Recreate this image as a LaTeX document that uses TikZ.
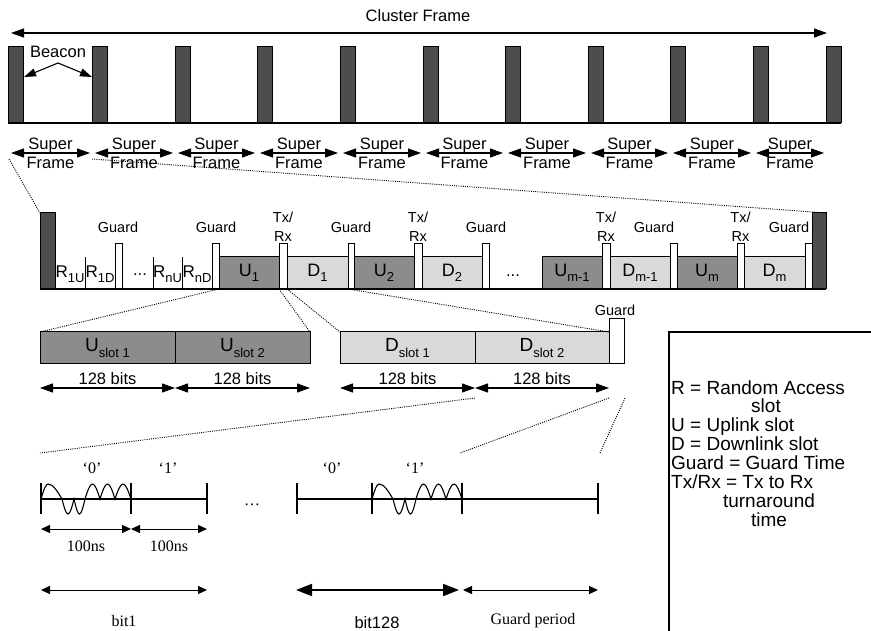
\documentclass[tikz,border=0pt]{standalone}
\usepackage{fontspec}
\setmainfont{Liberation Sans}
\newfontfamily\tnr{Liberation Serif}
\usetikzlibrary{arrows.meta,calc}
\definecolor{beaconc}{HTML}{4D4D4D}
\definecolor{upc}{HTML}{8C8C8C}
\definecolor{downc}{HTML}{D9D9D9}
\newcommand\rbox[7][]{\node[bx,#1,minimum width={(#4-#3)*1pt},minimum height={(#6-#5)*1pt}] (#2) at (#3,#6) {#7};}
\newcommand\sbs[2]{#1\raisebox{-0.3em}{\fontsize{13}{13}\selectfont #2}}
\begin{document}
\begin{tikzpicture}[x=1pt,y=-1pt,
 bx/.style={draw=black,line width=1pt,inner sep=0pt,outer sep=0pt,anchor=south west,font=\fontsize{18}{18}\selectfont},
 beacon/.style={fill=beaconc},
 up/.style={fill=upc},
 down/.style={fill=downc},
 wbox/.style={fill=white},
 dim/.style={line width=1.1pt,{Triangle[length=13pt,width=9pt]}-{Triangle[length=13pt,width=9pt]}},
 sdim/.style={line width=1pt,{Triangle[length=9pt,width=8pt]}-{Triangle[length=9pt,width=8pt]}},
 bdim/.style={line width=2pt,{Triangle[length=16pt,width=12pt]}-{Triangle[length=16pt,width=12pt]}},
 dots/.style={line width=0.9pt,dash pattern=on 1pt off 1.2pt},
 lbl/.style={font=\fontsize{16.5}{19}\selectfont,inner sep=0pt,align=center},
 slbl/.style={font=\fontsize{14.5}{19}\selectfont,inner sep=0pt,align=center},
 tlbl/.style={font=\tnr\fontsize{16}{18}\selectfont,inner sep=0pt},
 leg/.style={font=\fontsize{19}{19}\selectfont,inner sep=0pt},
 tick/.style={line width=1.2pt},
]
\useasboundingbox (0,0) rectangle (871,631);
% ---------- cluster frame ----------
\coordinate (cfL) at (11,33);
\coordinate (cfR) at (827,33);
\draw[dim] (cfL) -- (cfR);
\node[lbl] (cft) at (418,16) {Cluster Frame};
\foreach \x [count=\i] in {8,92,175,257,340,423,505,588,670,753,826}{\rbox[beacon]{b\i}{\x}{\x+15}{47}{123}{}}
\draw[line width=1.2pt] (b1.south west) -- (b11.south east);
\foreach \i [evaluate=\i as \j using int(\i+1)] in {1,...,10}{
  \coordinate (sfa\i) at ($(b\i.south west)+(3,30)$);
  \coordinate (sfb\i) at ($(b\j.south west)+(-2,30)$);
  \draw[dim] (sfa\i) -- (sfb\i);
  \node[lbl] (sf\i) at ($(sfa\i)!0.5!(sfb\i)$) {Super\\Frame};
}
\node[lbl] (bcn) at (58,52) {Beacon};
\coordinate (bcp) at (58,63);
\draw[line width=1.1pt,-{Triangle[length=12pt,width=8pt]}] (bcp) -- ($(b1.north east)+(1,30)$);
\draw[line width=1.1pt,-{Triangle[length=12pt,width=8pt]}] (bcp) -- ($(b2.north west)+(0,30)$);
% ---------- superframe ----------
\rbox[beacon]{mb1}{40}{55}{213}{289}{}
\foreach \x in {85,153,182}{\draw[line width=1pt] (\x,257) -- (\x,289);}
\node[lbl,font=\fontsize{17}{17}\selectfont] (r1) at (70,274) {\sbs{R}{1U}};
\node[lbl,font=\fontsize{17}{17}\selectfont] (r2) at (100,274) {\sbs{R}{1D}};
\node[lbl] (dd1) at (140,275) {...};
\node[lbl,font=\fontsize{17}{17}\selectfont] (r3) at (167.5,274) {\sbs{R}{nU}};
\node[lbl,font=\fontsize{17}{17}\selectfont] (r4) at (197,274) {\sbs{R}{nD}};
\rbox[wbox]{g1}{115}{122}{244}{289}{}
\rbox[wbox]{g2}{212}{219}{244}{289}{}
\rbox[up]{u1}{219}{279}{257}{289}{\sbs{U}{1}}
\rbox[wbox]{t1}{279}{287}{244}{289}{}
\rbox[down]{d1}{287}{348}{257}{289}{\sbs{D}{1}}
\rbox[wbox]{g3}{348}{354}{244}{289}{}
\rbox[up]{u2}{354}{414}{257}{289}{\sbs{U}{2}}
\rbox[wbox]{t2}{414}{422}{244}{289}{}
\rbox[down]{d2}{422}{482}{257}{289}{\sbs{D}{2}}
\rbox[wbox]{g4}{482}{489}{244}{289}{}
\node[lbl] (dd2) at (513,276) {...};
\rbox[up]{u3}{542}{602}{257}{289}{\sbs{U}{m-1}}
\rbox[wbox]{t3}{602}{610}{244}{289}{}
\rbox[down]{d3}{610}{670}{257}{289}{\sbs{D}{m-1}}
\rbox[wbox]{g5}{670}{677}{244}{289}{}
\rbox[up]{u4}{677}{737}{257}{289}{\sbs{U}{m}}
\rbox[wbox]{t4}{737}{744}{244}{289}{}
\rbox[down]{d4}{744}{805}{257}{289}{\sbs{D}{m}}
\rbox[wbox]{g6}{805}{812}{244}{289}{}
\rbox[beacon]{mb2}{812}{826}{213}{289}{}
\draw[line width=1.2pt] (mb1.south west) -- (mb2.south east);
\node[slbl] (gl1) at (118,227) {Guard};
\node[slbl] (gl2) at (216,227) {Guard};
\node[slbl] (gl3) at (351,227) {Guard};
\node[slbl] (gl4) at (486,227) {Guard};
\node[slbl] (gl5) at (654,227) {Guard};
\node[slbl] (gl6) at (789,227) {Guard};
\foreach \t in {t1,t2,t3,t4}{\node[slbl] (l\t) at ($(\t.north)+(0,-17)$) {Tx/\\Rx};}
\coordinate (z1) at (9,159);
\coordinate (z2) at (92,159);
\draw[dots] (z1) -- (mb1.north west);
\draw[dots] (z2) -- (mb2.north east);
% ---------- slots ----------
\rbox[up,font=\fontsize{19}{19}\selectfont]{us1}{40}{175}{332}{364}{\sbs{U}{slot 1}}
\rbox[up,font=\fontsize{19}{19}\selectfont]{us2}{175}{310}{332}{364}{\sbs{U}{slot 2}}
\rbox[down,font=\fontsize{19}{19}\selectfont]{ds1}{340}{475}{332}{364}{\sbs{D}{slot 1}}
\rbox[down,font=\fontsize{19}{19}\selectfont]{ds2}{475}{609}{332}{364}{\sbs{D}{slot 2}}
\rbox[wbox]{sg}{609}{624}{319}{364}{}
\node[slbl] (sgl) at (615,310) {Guard};
\draw[dots] (u1.south west) -- (us1.north west);
\draw[dots] (u1.south east) -- (us2.north east);
\draw[dots] (d1.south west) -- (ds1.north west);
\draw[dots] (d1.south east) -- (ds2.north east);
\foreach \s in {us1,us2,ds1,ds2}{
  \draw[dim] ($(\s.south west)+(0,24)$) -- ($(\s.south east)+(0,24)$);
  \node[lbl] (bits\s) at ($(\s.south)+(0,15)$) {128 bits};
}
\coordinate (p1) at ($(ds1.south east)+(0,34)$);
\coordinate (p2) at ($(ds2.south east)+(0,34)$);
\coordinate (p3) at ($(sg.south east)+(1,34)$);
\coordinate (q1) at (40,453);
\coordinate (q2) at (460,453);
\coordinate (q3) at (600,453);
\draw[dots] (p1) -- (q1);
\draw[dots] (p2) -- (q2);
\draw[dots] (p3) -- (q3);
% ---------- waveforms ----------
\coordinate (w0) at (41,499);
\coordinate (w1) at (131,499);
\coordinate (w2) at (207,499);
\coordinate (v0) at (297,499);
\coordinate (v1) at (372,499);
\coordinate (v2) at (462,499);
\coordinate (v3) at (598,499);
\draw[tick] (w0) -- (w2);
\draw[tick] (v0) -- (v3);
\foreach \c in {w0,w1,w2,v0,v1,v2,v3}{\draw[tick] ($(\c)+(0,-16)$) -- ($(\c)+(0,15)$);}
\draw[line width=1.1pt] (w0) sin ++(7,-15) cos ++(14,15) sin ++(6,15) cos ++(6,-15) sin ++(5.5,15) cos ++(5.5,-15) sin ++(7.5,-15) cos ++(7.5,15) sin ++(7.5,-15) cos ++(7.5,15) sin ++(8,-15) cos ++(8,15);
\draw[line width=1.1pt] (v1) sin ++(7,-15) cos ++(14,15) sin ++(6,15) cos ++(6,-15) sin ++(5.5,15) cos ++(5.5,-15) sin ++(7.5,-15) cos ++(7.5,15) sin ++(7.5,-15) cos ++(7.5,15) sin ++(8,-15) cos ++(8,15);
\node[tlbl] (o1) at (92,468) {‘0’};
\node[tlbl] (o2) at (168,468) {‘1’};
\node[tlbl] (o3) at (332,468) {‘0’};
\node[tlbl] (o4) at (415,468) {‘1’};
\node[tlbl] (dd3) at (252,505) {…};
\draw[sdim] ($(w0)+(0,30)$) -- ($(w1)+(0,30)$);
\draw[sdim] ($(w1)+(0,30)$) -- ($(w2)+(0,30)$);
\node[tlbl] (ns1) at ($(w0)!0.5!(w1)+(0,47)$) {100ns};
\node[tlbl] (ns2) at ($(w1)!0.5!(w2)+(0,47)$) {100ns};
\draw[sdim] ($(w0)+(0,91)$) -- ($(w2)+(0,91)$);
\node[tlbl] (bit1) at ($(w0)!0.5!(w2)+(0,122)$) {bit1};
\draw[bdim] ($(v0)+(-1,91)$) -- ($(v2)+(-3,91)$);
\node[lbl] (bit128) at (377,623) {bit128};
\draw[sdim] ($(v2)+(1,91)$) -- ($(v3)+(0,91)$);
\node[tlbl] (gp) at (533,621) {Guard period};
% ---------- legend ----------
\draw[line width=1.2pt] (669,332) rectangle (890,650);
\node[leg,anchor=base west] (lg1) at (671,394) {R = Random Access};
\node[leg,anchor=base] (lg2) at (766,412.5) {slot};
\node[leg,anchor=base west] (lg3) at (671,431) {U = Uplink slot};
\node[leg,anchor=base west] (lg4) at (671,450) {D = Downlink slot};
\node[leg,anchor=base west] (lg5) at (671,469) {Guard = Guard Time};
\node[leg,anchor=base west] (lg6) at (671,488) {Tx/Rx = Tx to Rx};
\node[leg,anchor=base] (lg7) at (769,507) {turnaround};
\node[leg,anchor=base] (lg8) at (769,526) {time};
\end{tikzpicture}
\end{document}
